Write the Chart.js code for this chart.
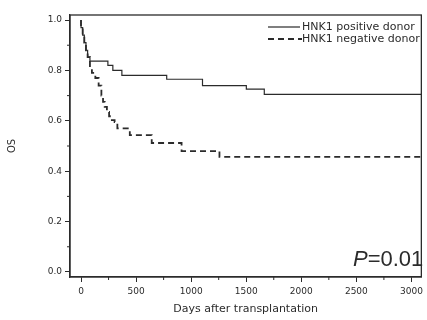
<!DOCTYPE html>
<html>
<head>
<meta charset="utf-8">
<script src="https://cdn.jsdelivr.net/npm/chart.js@4/dist/chart.umd.min.js"></script>
<style>
  html, body { margin: 0; padding: 0; background: #fff; }
  #wrap { width: 427px; height: 320px; position: relative; }
</style>
</head>
<body>
<div id="wrap"><canvas id="myChart" width="427" height="320"></canvas></div>
<script>
// Kaplan-Meier steps (days, OS)
const posDays = [0, 15, 30, 45, 60, 81, 244, 289, 371, 778, 1103, 1501, 1664, 1881, 3090];
const posOS = [1.0, 0.97, 0.94, 0.91, 0.88, 0.853, 0.837, 0.82, 0.80, 0.78, 0.765, 0.74, 0.726, 0.705, 0.705];

const negDays = [0, 15, 30, 45, 60, 81, 99, 130, 160, 185, 200, 215, 235, 255, 280, 305, 330, 443, 642, 913, 1257, 2360, 3090];
const negOS = [1.0, 0.97, 0.94, 0.91, 0.88, 0.853, 0.813, 0.79, 0.77, 0.74, 0.70, 0.675, 0.655, 0.635, 0.618, 0.603, 0.595, 0.57, 0.543, 0.512, 0.48, 0.457, 0.457];

const xTicks = [0, 500, 1000, 1500, 2000, 2500, 3000];
const xMinor = [250, 750, 1250, 1750, 2250, 2750];
const yTicks = [0.0, 0.2, 0.4, 0.6, 0.8, 1.0];
const yMinor = [0.1, 0.3, 0.5, 0.7, 0.9];

const seriesNames = ["HNK1 positive donor", "HNK1 negative donor"];
const pText = "=0.01";

const ink = "#2b2b2b";
const font = "'DejaVu Sans', sans-serif";
const pFont = "Arial, 'Liberation Sans', sans-serif";

const toPts = (xs, ys) => xs.map((x, i) => ({ x: x, y: ys[i] }));

// frame, minor ticks, legend and p-value
const extras = {
  id: "extras",
  afterDraw(chart) {
    const { ctx, chartArea: a, scales } = chart;
    ctx.save();
    ctx.strokeStyle = ink;
    ctx.lineWidth = 1.3;
    ctx.strokeRect(a.left, a.top, a.right - a.left, a.bottom - a.top);

    ctx.lineWidth = 1;
    ctx.beginPath();
    xMinor.forEach((v) => {
      const px = scales.x.getPixelForValue(v);
      ctx.moveTo(px, a.bottom);
      ctx.lineTo(px, a.bottom + 3);
    });
    yMinor.forEach((v) => {
      const py = scales.y.getPixelForValue(v);
      ctx.moveTo(a.left, py);
      ctx.lineTo(a.left - 3, py);
    });
    ctx.stroke();

    // legend
    ctx.lineWidth = 1.2;
    ctx.beginPath();
    ctx.moveTo(268, 27);
    ctx.lineTo(300, 27);
    ctx.stroke();
    ctx.lineWidth = 1.8;
    ctx.setLineDash([6, 4]);
    ctx.beginPath();
    ctx.moveTo(268, 39);
    ctx.lineTo(302, 39);
    ctx.stroke();
    ctx.setLineDash([]);

    ctx.fillStyle = ink;
    ctx.font = "11px " + font;
    ctx.textBaseline = "middle";
    ctx.textAlign = "left";
    ctx.fillText(seriesNames[0], 302, 27);
    ctx.fillText(seriesNames[1], 302, 39);

    // p-value
    ctx.font = "italic 22px " + pFont;
    ctx.textBaseline = "alphabetic";
    ctx.fillText("P", 353, 266);
    const pw = ctx.measureText("P").width;
    ctx.font = "22px " + pFont;
    ctx.fillText(pText, 353 + pw, 266);
    ctx.restore();
  },
};

const ctx = document.getElementById("myChart");

new Chart(ctx, {
  type: "line",
  data: {
    datasets: [
      {
        label: seriesNames[0],
        data: toPts(posDays, posOS),
        borderColor: ink,
        borderWidth: 1.2,
        stepped: "after",
        pointRadius: 0,
        fill: false,
      },
      {
        label: seriesNames[1],
        data: toPts(negDays, negOS),
        borderColor: ink,
        borderWidth: 1.8,
        borderDash: [6, 4],
        stepped: "after",
        pointRadius: 0,
        fill: false,
      },
    ],
  },
  options: {
    responsive: false,
    animation: false,
    layout: { padding: { top: 15, right: 4, left: 0, bottom: 0 } },
    plugins: { legend: { display: false }, tooltip: { enabled: false } },
    scales: {
      x: {
        type: "linear",
        min: -100,
        max: 3090,
        afterBuildTicks: (s) => { s.ticks = xTicks.map((v) => ({ value: v })); },
        afterFit: (s) => { s.height = 43; },
        border: { display: true, color: ink, width: 1.3 },
        grid: { drawOnChartArea: false, color: ink, tickLength: 5, tickWidth: 1 },
        ticks: { color: ink, font: { size: 9, family: font }, padding: 4, maxRotation: 0, callback: (v) => String(v) },
        title: { display: true, text: "Days after transplantation", color: ink, font: { size: 11, family: font }, padding: { top: 6 } },
      },
      y: {
        min: -0.02,
        max: 1.02,
        afterBuildTicks: (s) => { s.ticks = yTicks.map((v) => ({ value: v })); },
        afterFit: (s) => { s.width = 70; },
        border: { display: true, color: ink, width: 1.3 },
        grid: { drawOnChartArea: false, color: ink, tickLength: 5, tickWidth: 1 },
        ticks: { color: ink, font: { size: 9, family: font }, padding: 3, callback: (v) => v.toFixed(1) },
        title: { display: true, text: "OS", color: ink, font: { size: 10, family: font }, padding: { top: 6, bottom: 0 } },
      },
    },
  },
  plugins: [extras],
});
</script>
</body>
</html>
